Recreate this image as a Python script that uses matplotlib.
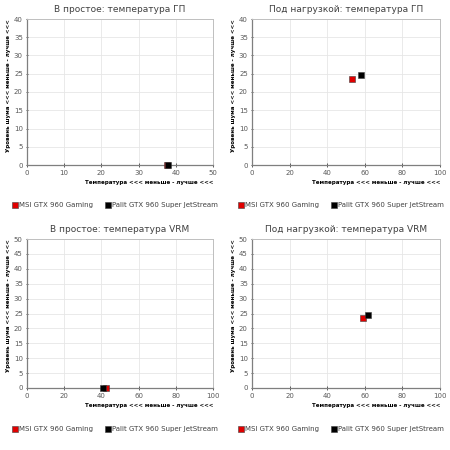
import matplotlib.pyplot as plt

titles = ['В простое: температура ГП', 'Под нагрузкой: температура ГП',
          'В простое: температура VRM', 'Под нагрузкой: температура VRM']
series = ['MSI GTX 960 Gaming', 'Palit GTX 960 Super JetStream']
colors = ['#e00000', '#000000']

# temperature (x) and noise level (y) per panel, [MSI, Palit]
temp = [[37.6, 37.8], [53.0, 58.0], [42.5, 41.0], [59.0, 61.5]]
noise = [[0.0, 0.0], [23.5, 24.6], [0.0, 0.0], [23.4, 24.6]]
xlims = [(0, 50, 10), (0, 100, 20), (0, 100, 20), (0, 100, 20)]
ylims = [(0, 40, 5), (0, 40, 5), (0, 50, 5), (0, 50, 5)]

xlabel = 'Температура <<< меньше - лучше <<<'
ylabel = 'Уровень шума <<< меньше - лучше <<<'

fig = plt.figure(figsize=(4.5, 4.5), dpi=100)
boxes = [(27, 19, 213, 165), (252, 19, 440, 165),
         (27, 239, 213, 388), (252, 239, 440, 388)]
legend_y = [205, 205, 429, 429]
title_y = [10, 10, 230, 230]

for i, (l, t, r, b) in enumerate(boxes):
    ax = fig.add_axes([l / 450, 1 - b / 450, (r - l) / 450, (b - t) / 450])
    for j in range(2):
        ax.scatter(temp[i][j], noise[i][j], marker='s', s=22, color=colors[j],
                   edgecolors='#404040', linewidths=0.4, zorder=3 + j,
                   clip_on=False, label=series[j])
    x0, x1, xs = xlims[i]
    y0, y1, ys = ylims[i]
    ax.set_xlim(x0, x1)
    ax.set_ylim(y0, y1)
    ax.set_xticks(range(x0, x1 + 1, xs))
    ax.set_yticks(range(y0, y1 + 1, ys))
    ax.grid(True, color='#e6e6e6', linewidth=0.6)
    ax.set_axisbelow(True)
    ax.tick_params(labelsize=5, colors='#595959', length=3, width=0.7,
                   direction='inout', pad=2)
    ax.tick_params(axis='y', length=2)
    for side in ['top', 'right']:
        ax.spines[side].set_color('#bfbfbf')
        ax.spines[side].set_linewidth(0.7)
    for side in ['bottom', 'left']:
        ax.spines[side].set_color('#7f7f7f')
        ax.spines[side].set_linewidth(0.9)
    ax.set_xlabel(xlabel, fontsize=4, fontweight='bold', loc='right', labelpad=3)
    ax.set_ylabel(ylabel, fontsize=4, fontweight='bold', loc='top', labelpad=2)
    fig.text((l + r) / 2 / 450, 1 - title_y[i] / 450, titles[i], fontsize=6.5,
             color='#404040', ha='center', va='center')
    ax.legend(loc='center', bbox_to_anchor=((l + r) / 2 / 450 - 0.012, 1 - legend_y[i] / 450),
              bbox_transform=fig.transFigure, ncol=2, frameon=False, fontsize=5,
              markerscale=0.9, handletextpad=0.1, columnspacing=1.6,
              handlelength=1.0, labelcolor='#404040')

fig.savefig('out.png', dpi=100)
